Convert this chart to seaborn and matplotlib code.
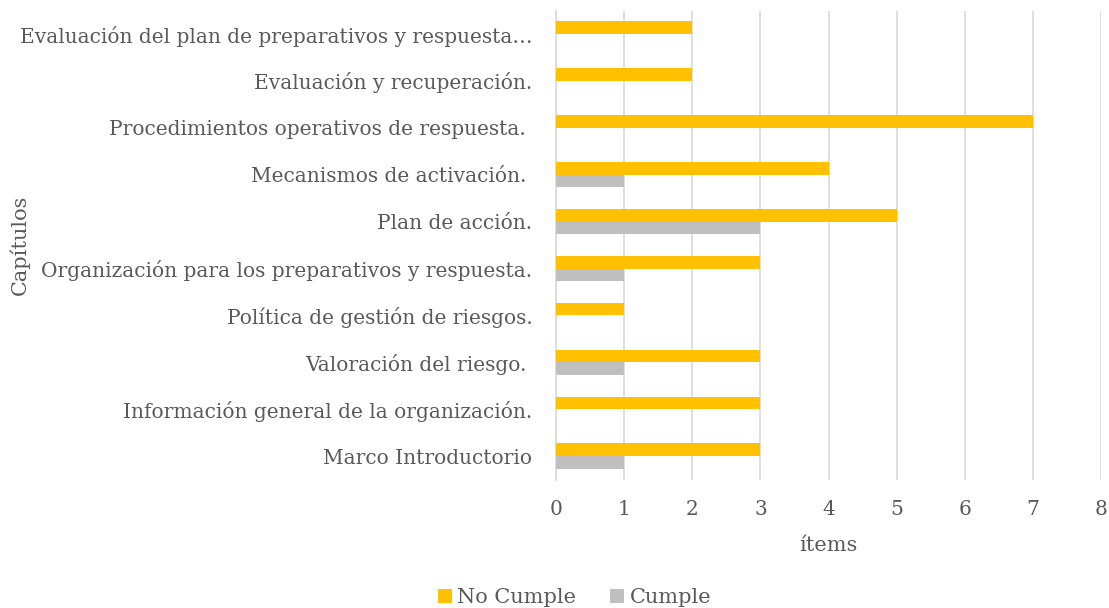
import matplotlib
matplotlib.use("Agg")
import matplotlib.pyplot as plt
import seaborn as sns
import pandas as pd

categorias = [
    "Evaluación del plan de preparativos y respuesta…",
    "Evaluación y recuperación.",
    "Procedimientos operativos de respuesta. ",
    "Mecanismos de activación. ",
    "Plan de acción.",
    "Organización para los preparativos y respuesta.",
    "Política de gestión de riesgos.",
    "Valoración del riesgo. ",
    "Información general de la organización.",
    "Marco Introductorio",
]
no_cumple = [2, 2, 7, 4, 5, 3, 1, 3, 3, 3]
cumple = [0, 0, 0, 1, 3, 1, 0, 1, 0, 1]
series = ["No Cumple", "Cumple"]
colores = ["#FFC000", "#BFBFBF"]
x_ticks = [0, 1, 2, 3, 4, 5, 6, 7, 8]

df = pd.DataFrame({
    "cap": categorias * 2,
    "val": no_cumple + cumple,
    "serie": [series[0]] * len(categorias) + [series[1]] * len(categorias),
})

sns.set_style("white")
plt.rcParams["font.family"] = ["DejaVu Serif"]
txt = "#595959"

fig = plt.figure(figsize=(11.09, 6.08), dpi=100)
ax = fig.add_axes([0.5014, 0.2112, 0.4914, 0.7714])

sns.barplot(data=df, y="cap", x="val", hue="serie", hue_order=series,
            order=categorias, palette=colores, orient="h", width=0.54,
            gap=0, ax=ax, legend=True, saturation=1, errorbar=None,
            linewidth=0)

ax.set_xlim(0, 8)
ax.set_xticks(x_ticks)
ax.set_ylim(len(categorias) - 0.5, -0.5)
ax.grid(axis="x", color="#D9D9D9", linewidth=1.2)
ax.grid(axis="y", visible=False)
ax.set_axisbelow(True)
for s in ["top", "right", "bottom"]:
    ax.spines[s].set_visible(False)
ax.spines["left"].set_color("#D9D9D9")
ax.spines["left"].set_linewidth(1.2)
ax.spines["left"].set_zorder(0.5)
ax.tick_params(axis="both", length=0, colors=txt, labelsize=14.5)
ax.tick_params(axis="x", pad=15)
ax.tick_params(axis="y", pad=17)
ax.set_xlabel("ítems", color=txt, fontsize=15, labelpad=12)
ax.set_ylabel("Capítulos", color=txt, fontsize=15)
ax.yaxis.set_label_coords(-0.965, 0.5, transform=ax.transAxes)

handles, labels = ax.get_legend_handles_labels()
ax.get_legend().remove()
fig.legend(handles, labels, loc="lower center", bbox_to_anchor=(0.518, -0.03),
           ncol=2, frameon=False, fontsize=15, handlelength=0.7,
           handleheight=0.7, handletextpad=0.25, columnspacing=1.6,
           labelcolor=txt)

fig.savefig("out.png", dpi=100)
